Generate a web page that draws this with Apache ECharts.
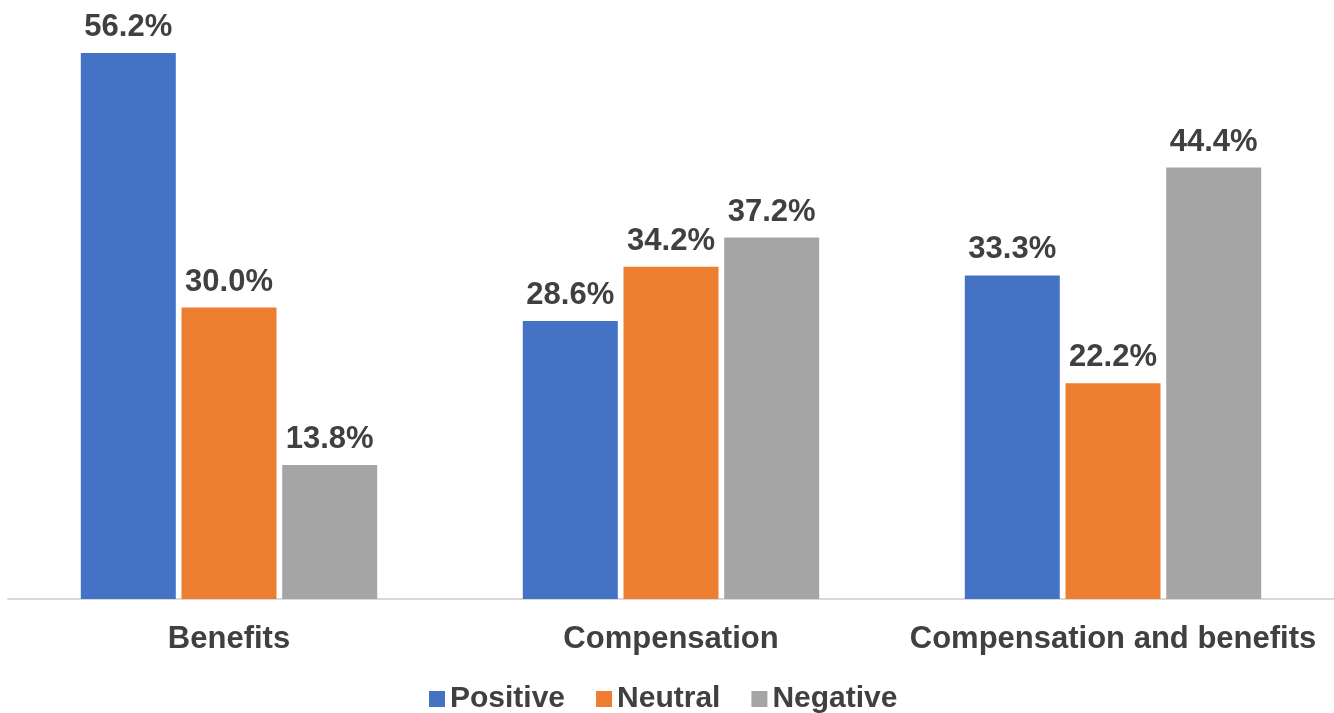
<!DOCTYPE html>
<html>
<head>
<meta charset="utf-8">
<script src="https://cdn.jsdelivr.net/npm/echarts@6/dist/echarts.min.js"></script>
<style>
  html, body { margin: 0; padding: 0; background: #fff; }
  #chart { width: 1334px; height: 713px; }
</style>
</head>
<body>
<div id="chart"></div>
<script>
// categories and series values (percent)
var categories = ['Benefits', 'Compensation', 'Compensation and benefits'];
var positive = [56.2, 28.6, 33.3];
var neutral = [30.0, 34.2, 22.2];
var negative = [13.8, 37.2, 44.4];

var font = '"Liberation Sans", Arial, sans-serif';
var textColor = '#404040';

function barSeries(name, data, color) {
  return {
    name: name,
    type: 'bar',
    data: data,
    barWidth: 95,
    barGap: '6%',
    itemStyle: { color: color },
    label: {
      show: true,
      position: 'top',
      distance: 10,
      formatter: function (p) { return p.value.toFixed(1) + '%'; },
      color: textColor,
      fontFamily: font,
      fontWeight: 'bold',
      fontSize: 31
    }
  };
}

var myChart = echarts.init(document.getElementById('chart'));
var option = {
  animation: false,
  grid: { left: 8, right: 0, top: 16, bottom: 114 },
  legend: {
    bottom: -6,
    left: 424,
    icon: 'rect',
    itemWidth: 16,
    itemHeight: 16,
    itemGap: 31,
    textStyle: {
      color: textColor,
      fontFamily: font,
      fontWeight: 'bold',
      fontSize: 30
    },
    data: ['Positive', 'Neutral', 'Negative']
  },
  xAxis: {
    type: 'category',
    data: categories,
    axisLine: { lineStyle: { color: '#d9d9d9', width: 2 } },
    axisTick: { show: false },
    axisLabel: {
      interval: 0,
      margin: 25,
      color: textColor,
      fontFamily: font,
      fontWeight: 'bold',
      fontSize: 31
    }
  },
  yAxis: {
    type: 'value',
    min: 0,
    max: 60,
    show: false,
    splitLine: { show: false }
  },
  series: [
    barSeries('Positive', positive, '#4472C4'),
    barSeries('Neutral', neutral, '#ED7D31'),
    barSeries('Negative', negative, '#A5A5A5')
  ]
};
myChart.setOption(option);
</script>
</body>
</html>
